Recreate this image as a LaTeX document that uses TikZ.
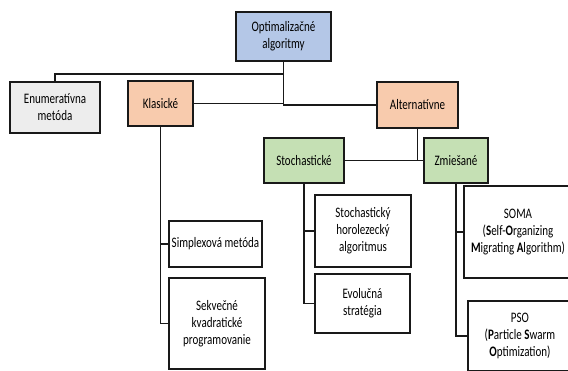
\documentclass[tikz,border=0pt]{standalone}
\usepackage{fontspec}
\setmainfont{Carlito}[FakeStretch=0.76]
\usetikzlibrary{positioning}
\definecolor{rootblue}{HTML}{B4C7E7}
\definecolor{enumgrey}{HTML}{EDEDED}
\definecolor{peach}{HTML}{F8CBAD}
\definecolor{leafgreen}{HTML}{C5E0B4}
\tikzset{
  box/.style     = {rectangle, draw=black!90, line width=1.4pt, align=center,
                    inner sep=1pt, font=\fontsize{14.5}{17}\selectfont},
  rootbox/.style = {box, fill=rootblue},
  enumbox/.style = {box, fill=enumgrey},
  classbox/.style= {box, fill=peach},
  subbox/.style  = {box, fill=leafgreen},
  leafbox/.style = {box, fill=white},
  link/.style    = {draw=black!90, line width=1.1pt},
}

\begin{document}
\begin{tikzpicture}[x=1pt, y=-1pt]
  \useasboundingbox (0,0) rectangle (568,370);
  \clip (0,0) rectangle (568,370);

  \node[rootbox, minimum width=95pt, minimum height=49pt] (root) at (283.5,36.5) {Optimalizačné\\algoritmy};
  \node[enumbox, minimum width=90pt, minimum height=51pt] (enum) at (55,107.5) {Enumeratívna\\metóda};
  \node[classbox, minimum width=65pt, minimum height=45pt] (klas) at (160.5,103.5) {Klasické};
  \node[classbox, minimum width=81pt, minimum height=46pt] (alt) at (417.5,105) {Alternatívne};
  \node[subbox, minimum width=80pt, minimum height=45pt] (stoch) at (304,160.5) {Stochastické};
  \node[subbox, minimum width=64pt, minimum height=45pt] (zmies) at (456,160.5) {Zmiešané};

  % leaves
  \node[leafbox, minimum width=93pt, minimum height=46pt] (simp) at (215.5,244) {Simplexová metóda};
  \node[leafbox, minimum width=96pt, minimum height=91pt] (sekv) at (217,323.5) {Sekvečné\\kvadratické\\programovanie};
  \node[leafbox, minimum width=96pt, minimum height=72pt] (shill) at (363,231) {Stochastický\\horolezecký\\algoritmus};
  \node[leafbox, minimum width=95pt, minimum height=59pt] (evol) at (362.5,303.5) {Evolučná\\stratégia};
  \node[leafbox, minimum width=108pt, minimum height=92pt] (soma) at (518,232)
    {SOMA\\(\textbf{S}elf-\textbf{O}rganizing\\\textbf{M}igrating \textbf{A}lgorithm)};
  \node[leafbox, minimum width=104pt, minimum height=70pt] (pso) at (520,336)
    {PSO\\(\textbf{P}article \textbf{S}warm\\\textbf{O}ptimization)};

  % connectors
  \coordinate (jtop) at (283.5,74);
  \draw[link] (root.south) |- (klas.east);
  \draw[link] (root.south) |- (alt.west);
  \draw[link] (enum.north) |- (jtop);
  \draw[link] (alt.south) -- (alt.south |- zmies.west);
  \draw[link] (stoch.east) -- (zmies.west);
  \draw[link] (klas.south) |- (simp.west);
  \draw[link] (klas.south) |- (sekv.west);
  \draw[link] (stoch.south) |- (shill.west);
  \draw[link] (stoch.south) |- (evol.west);
  \draw[link] (zmies.south) |- (soma.west);
  \draw[link] (zmies.south) |- (pso.west);

\end{tikzpicture}
\end{document}
